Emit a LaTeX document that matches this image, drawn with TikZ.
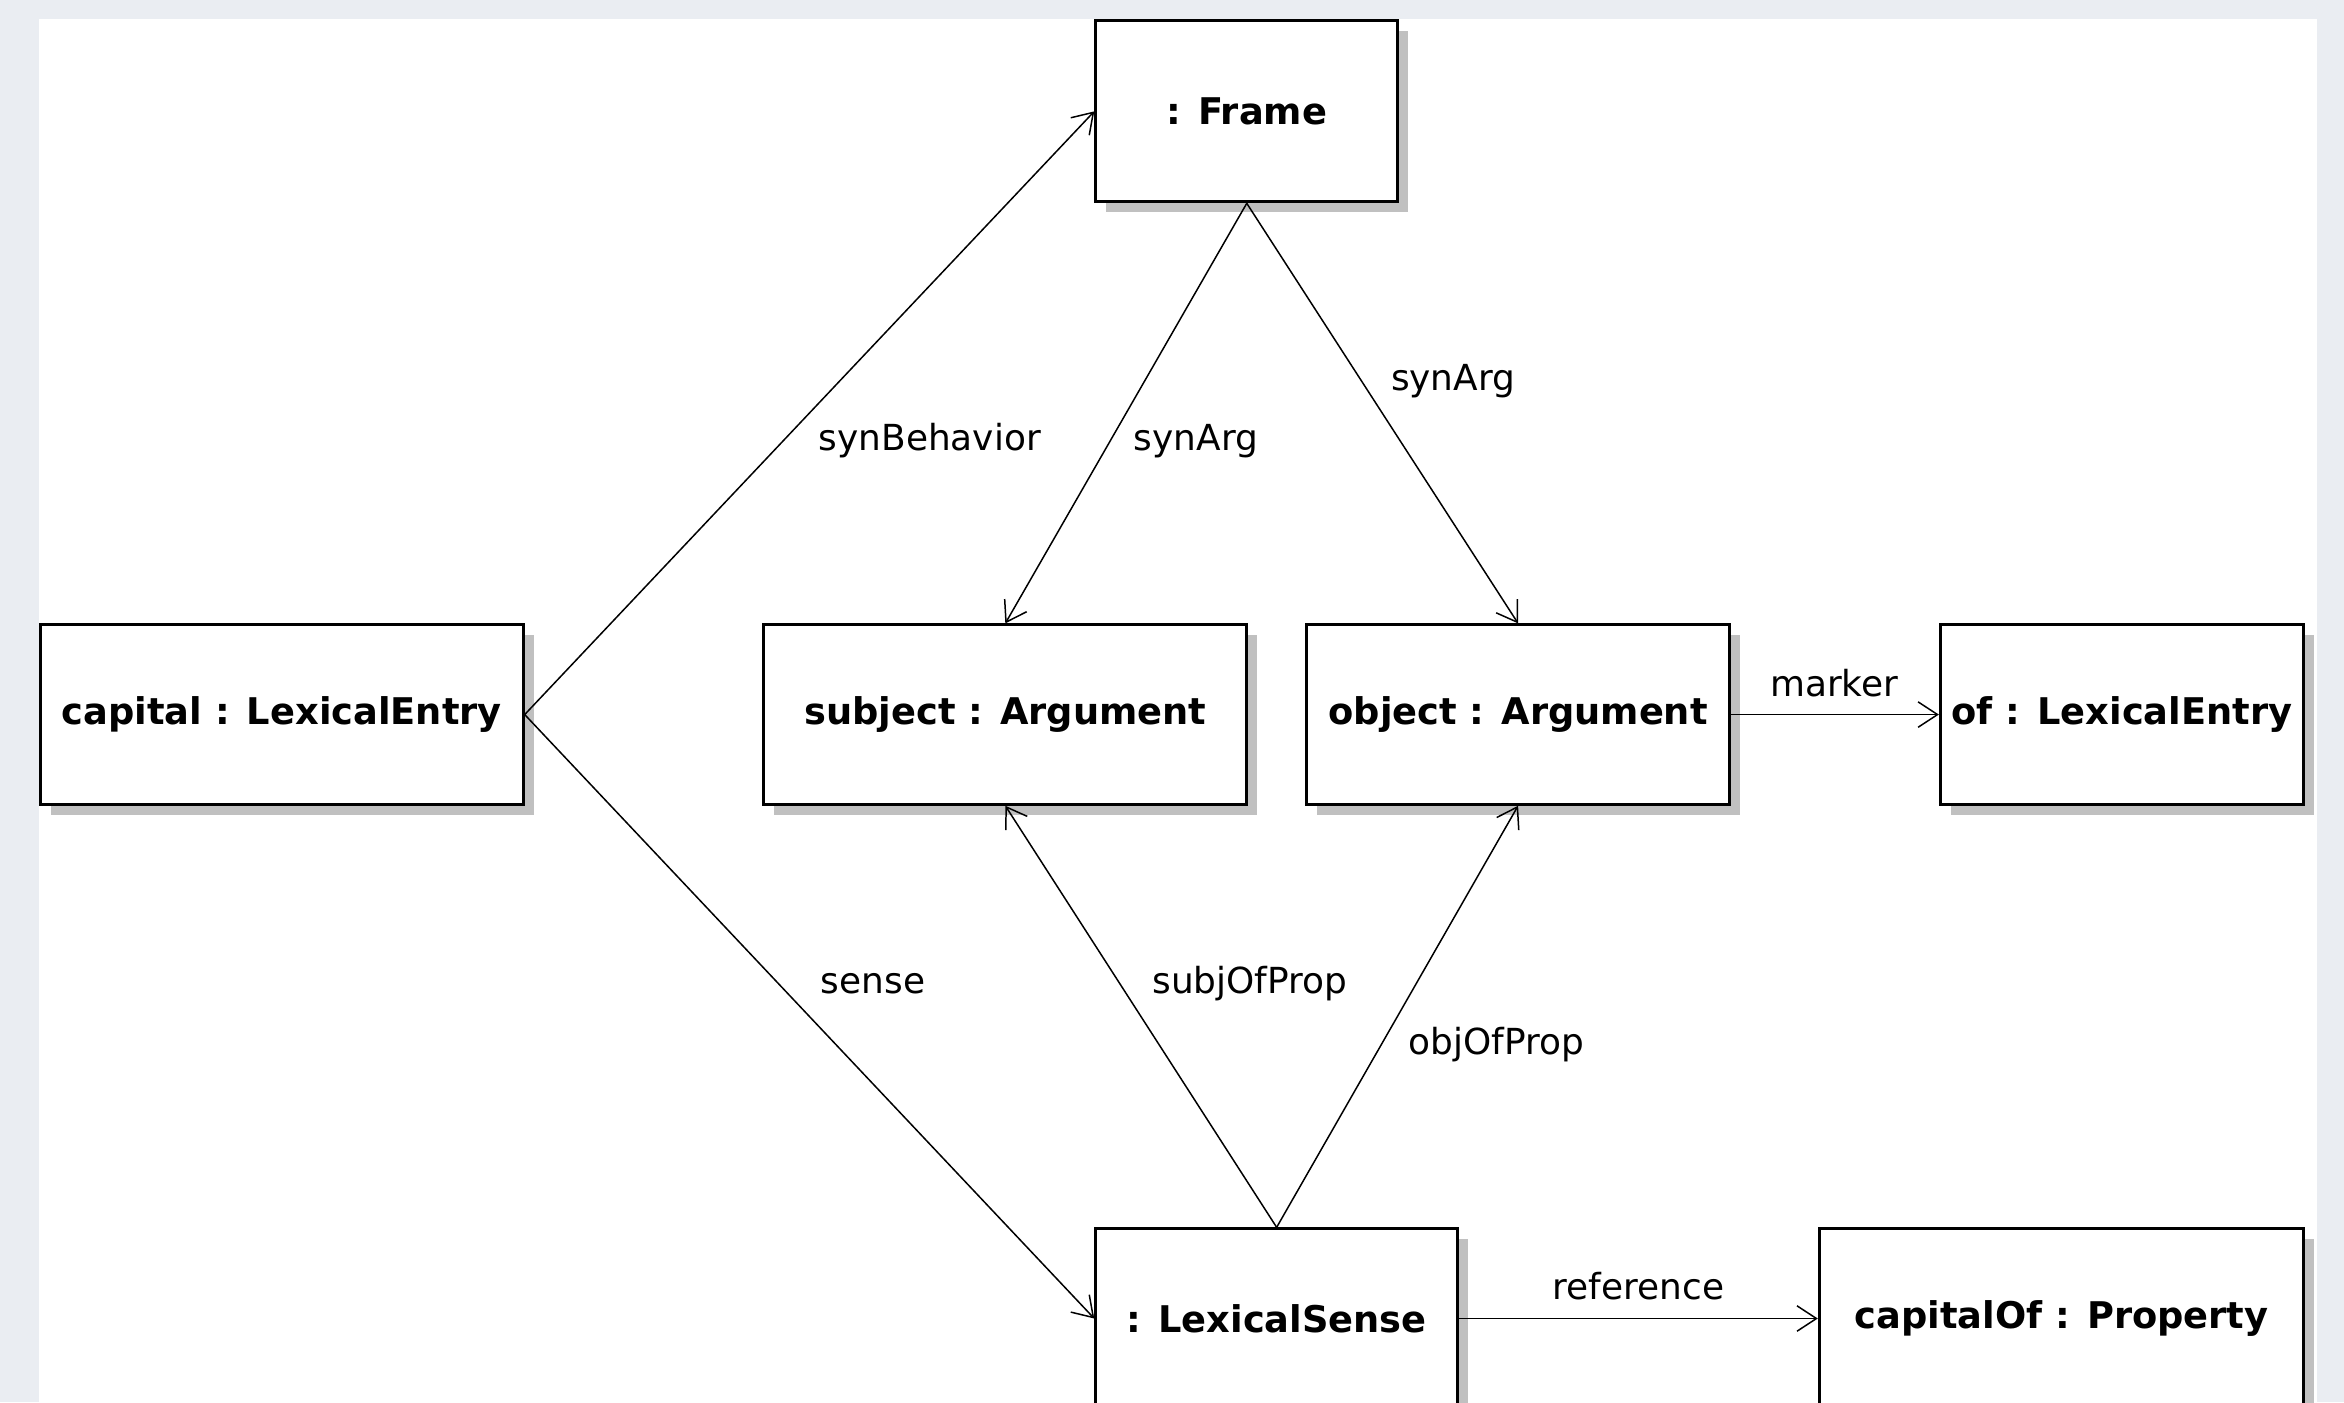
\documentclass[tikz,border=0pt]{standalone}
\usepackage{fontspec}
\setmainfont{DejaVu Sans}
\usetikzlibrary{arrows.meta,shadows}
\definecolor{uibg}{HTML}{EAEDF2}
\definecolor{boxshadow}{HTML}{C0C0C0}

\begin{document}
\begin{tikzpicture}[x=0.5pt,y=-0.5pt,
    umlbox/.style={draw,line width=1pt,fill=white,inner sep=0pt,
      minimum height=60pt,font=\bfseries\fontsize{12.3}{14}\selectfont,
      drop shadow={shadow xshift=3.5pt,shadow yshift=-3.5pt,fill=boxshadow,opacity=1}},
    rel/.style={line width=0.5pt,-{Straight Barb[length=6.5pt,width=8.5pt]}},
    lbl/.style={font=\fontsize{12}{14}\selectfont,inner sep=0pt}]
  \useasboundingbox (0,0) rectangle (1568,938);
  % window background
  \fill[uibg] (0,0) rectangle (1568,938);
  \fill[white] (26,13) rectangle (1550,938);
  % objects
  \node[umlbox,minimum width=101pt,minimum height=60.5pt] (frame) at (834,74.5) {: Frame};
  \node[umlbox,minimum width=161.5pt] (capital)   at (188.5,478)  {capital : LexicalEntry};
  \node[umlbox,minimum width=161.5pt] (subject)   at (672.5,478)  {subject : Argument};
  \node[umlbox,minimum width=141.5pt] (object)    at (1015.5,478) {object : Argument};
  \node[umlbox,minimum width=121.5pt] (of)        at (1419.5,478) {of : LexicalEntry};
  \node[umlbox,minimum width=121pt]   (lexsense)  at (854,882)    {: LexicalSense};
  \node[umlbox,minimum width=162pt]   (capitalof) at (1379,882)   {capitalOf : Property};
  % links
  \draw[rel] (capital.east) -- (frame.west);
  \draw[rel] (frame.south) -- (subject.north);
  \draw[rel] (frame.south) -- (object.north);
  \draw[rel] (object.east) -- (of.west);
  \draw[rel] (capital.east) -- (lexsense.west);
  \draw[rel] (lexsense.north) -- (subject.south);
  \draw[rel] (lexsense.north) -- (object.south);
  \draw[rel] (lexsense.east) -- (capitalof.west);
  % link labels
  \node[lbl] (lsynbeh)  at (622,295)  {synBehavior};
  \node[lbl] (lsynsubj) at (800,295)  {synArg};
  \node[lbl] (lsynobj)  at (972,255)  {synArg};
  \node[lbl] (lmarker)  at (1227,457) {marker};
  \node[lbl] (lsense)   at (584,658)  {sense};
  \node[lbl] (lsubjof)  at (836,658)  {subjOfProp};
  \node[lbl] (lobjof)   at (1001,699) {objOfProp};
  \node[lbl] (lref)     at (1096,860) {reference};
\end{tikzpicture}
\end{document}
